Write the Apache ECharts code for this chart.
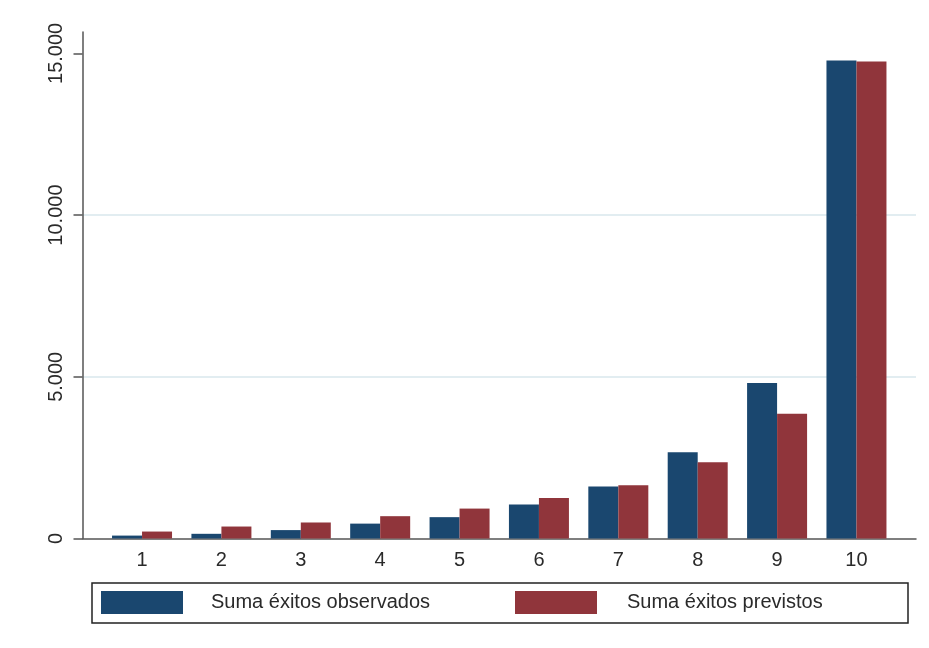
<!DOCTYPE html>
<html>
<head>
<meta charset="utf-8">
<script src="https://cdn.jsdelivr.net/npm/echarts@6/dist/echarts.min.js"></script>
<style>
html,body{margin:0;padding:0;background:#fff;}
#chart{width:929px;height:648px;}
</style>
</head>
<body>
<div id="chart"></div>
<script>
var categories = [1, 2, 3, 4, 5, 6, 7, 8, 9, 10];
var observados = [90, 145, 260, 460, 660, 1050, 1605, 2670, 4805, 14780];
var previstos = [215, 370, 495, 690, 925, 1250, 1650, 2360, 3855, 14750];
var yTicks = [0, 5000, 10000, 15000];
var seriesNames = ['Suma éxitos observados', 'Suma éxitos previstos'];

var FONT = '"Liberation Sans", Arial, sans-serif';
function fmt(v) { return String(v).replace(/\B(?=(\d{3})+(?!\d))/g, '.'); }
function pairs(vals) { return categories.map(function (c, i) { return [c, vals[i]]; }); }

var chart = echarts.init(document.getElementById('chart'), null, {renderer: 'canvas'});
chart.setOption({
  backgroundColor: '#ffffff',
  animation: false,
  grid: {left: 82.5, right: 13, top: 32, bottom: 109.5, containLabel: false},
  xAxis: {
    type: 'value', min: 0.25, max: 10.75,
    axisLine: {show: true, lineStyle: {color: '#555', width: 1.5}},
    axisTick: {show: false},
    splitLine: {show: false},
    axisLabel: {customValues: categories, color: '#2a2a2a', fontSize: 20, fontFamily: FONT, margin: 12}
  },
  yAxis: {
    type: 'value', min: 0, max: 15660, interval: 5000,
    axisLine: {show: true, lineStyle: {color: '#555', width: 1.5}},
    axisTick: {show: true, length: 9, customValues: yTicks, lineStyle: {color: '#555', width: 1.5}},
    splitLine: {show: true, showMinLine: false, showMaxLine: false, lineStyle: {color: '#e2edf1', width: 2}},
    axisLabel: {customValues: yTicks, rotate: 90, color: '#2a2a2a', fontSize: 20, fontFamily: FONT, margin: 16, formatter: fmt}
  },
  legend: [
    {data: [seriesNames[0]], left: 101, top: 591, padding: 0, itemWidth: 82, itemHeight: 23, icon: 'rect', selectedMode: false,
      textStyle: {fontSize: 20, fontFamily: FONT, color: '#2a2a2a', padding: [0, 0, 0, 23]}},
    {data: [seriesNames[1]], left: 515, top: 591, padding: 0, itemWidth: 82, itemHeight: 23, icon: 'rect', selectedMode: false,
      textStyle: {fontSize: 20, fontFamily: FONT, color: '#2a2a2a', padding: [0, 0, 0, 25]}}
  ],
  graphic: [{
    type: 'rect', silent: true,
    shape: {x: 92, y: 583, width: 816, height: 40},
    style: {fill: 'none', stroke: '#222', lineWidth: 1.5}
  }],
  series: [
    {name: seriesNames[0], type: 'bar', data: pairs(observados), barWidth: 30, barGap: '0%',
      itemStyle: {color: '#1a476f'}},
    {name: seriesNames[1], type: 'bar', data: pairs(previstos), barWidth: 30, barGap: '0%',
      itemStyle: {color: '#90353b'}}
  ]
});
</script>
</body>
</html>
